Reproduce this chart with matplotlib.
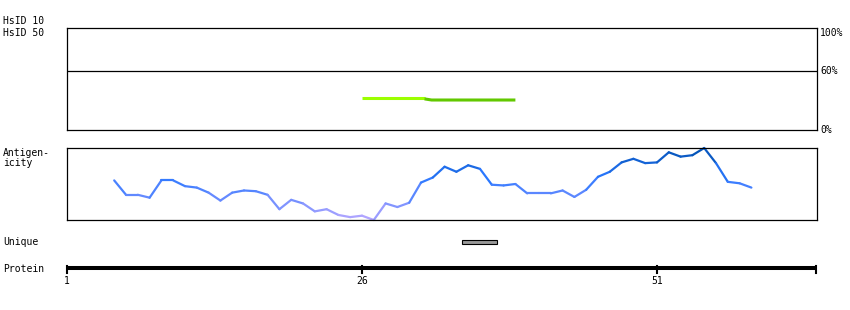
import numpy as np
import matplotlib
matplotlib.use("Agg")
import matplotlib.pyplot as plt
from matplotlib.collections import LineCollection
from matplotlib.colors import LinearSegmentedColormap

W, H = 850, 310
SEQ_LEN = 64.56

# HsID identity segments (start residue, end residue, percent)
hsid10_x = [26, 31.3]
hsid10_y = [31.5, 31.5]
hsid50_x = [31.3, 31.9, 39]
hsid50_y = [30.5, 29.4, 29.4]

# antigenicity profile, residues 5..59 (normalised score)
antigen_res = list(range(5, 60))
antigen_val = [0.55, 0.35, 0.35, 0.31, 0.55, 0.55, 0.47, 0.45, 0.38, 0.27,
               0.38, 0.41, 0.40, 0.35, 0.15, 0.28, 0.23, 0.12, 0.15, 0.07,
               0.04, 0.06, 0.00, 0.23, 0.18, 0.24, 0.52, 0.59, 0.74, 0.67,
               0.76, 0.71, 0.49, 0.48, 0.50, 0.37, 0.37, 0.37, 0.41, 0.32,
               0.42, 0.60, 0.67, 0.80, 0.85, 0.79, 0.80, 0.94, 0.88, 0.90,
               1.00, 0.79, 0.53, 0.51, 0.45]

unique_start, unique_end = 34.5, 37.4
protein_ticks = [1, 26, 51]

mono = "DejaVu Sans Mono"
fs = 7


def fr(left, top, right, bottom):
    return [left / W, 1 - bottom / H, (right - left) / W, (bottom - top) / H]


fig = plt.figure(figsize=(W / 100, H / 100), dpi=100)

# --- HsID panel ---
ax1 = fig.add_axes(fr(67, 28, 817, 130))
ax1.set_xlim(1, SEQ_LEN)
ax1.set_ylim(0, 100)
ax1.axhline(58, color="black", lw=0.9)
ax1.plot(hsid10_x, hsid10_y, color="#9cff00", lw=2.2, solid_capstyle="butt")
ax1.plot(hsid50_x, hsid50_y, color="#62c800", lw=2.2, solid_capstyle="butt")
ax1.set_xticks([])
ax1.set_yticks([])
for s in ax1.spines.values():
    s.set_linewidth(0.9)
for label, y in [("100%", 33), ("60%", 71), ("0%", 130)]:
    fig.text(820 / W, 1 - y / H, label, fontsize=fs, family=mono,
             va="center", ha="left")

# --- antigenicity panel ---
ax2 = fig.add_axes(fr(67, 148, 817, 220))
ax2.set_xlim(1, SEQ_LEN)
ax2.set_ylim(0, 1)
cmap = LinearSegmentedColormap.from_list(
    "ag", [(0, "#b8a8ff"), (0.3, "#6a8cff"), (0.6, "#2a78ff"), (1, "#0050b0")])
pts = np.column_stack([antigen_res, antigen_val])
segs = np.stack([pts[:-1], pts[1:]], axis=1)
mid = (np.array(antigen_val[:-1]) + np.array(antigen_val[1:])) / 2
lc = LineCollection(segs, colors=cmap(mid), linewidths=1.6, clip_on=False,
                    capstyle="round")
ax2.add_collection(lc)
ax2.set_xticks([])
ax2.set_yticks([])
for s in ax2.spines.values():
    s.set_linewidth(0.9)

# --- unique + protein rows (y in pixel units) ---
ax3 = fig.add_axes(fr(67, 225, 817, 300))
ax3.set_xlim(1, SEQ_LEN)
ax3.set_ylim(300, 225)
ax3.axis("off")
ax3.add_patch(plt.Rectangle((unique_start, 240), unique_end - unique_start, 4,
                            facecolor="#999999", edgecolor="black", lw=0.8,
                            clip_on=False))
ax3.plot([1, SEQ_LEN], [268, 268], color="black", lw=2.9,
         solid_capstyle="butt", clip_on=False)
for t in protein_ticks + [SEQ_LEN - 0.08]:
    ax3.plot([t, t], [266, 273], color="black", lw=1.5, clip_on=False)
for t in protein_ticks:
    ax3.text(t, 281, str(t), fontsize=fs, family=mono, ha="center", va="center")

# left labels
for label, y in [("HsID 10", 21), ("HsID 50", 33), ("Antigen-", 153),
                 ("icity", 163), ("Unique", 242), ("Protein", 269)]:
    fig.text(3 / W, 1 - y / H, label, fontsize=fs, family=mono, va="center",
             ha="left")

fig.savefig("out.png", dpi=100)
